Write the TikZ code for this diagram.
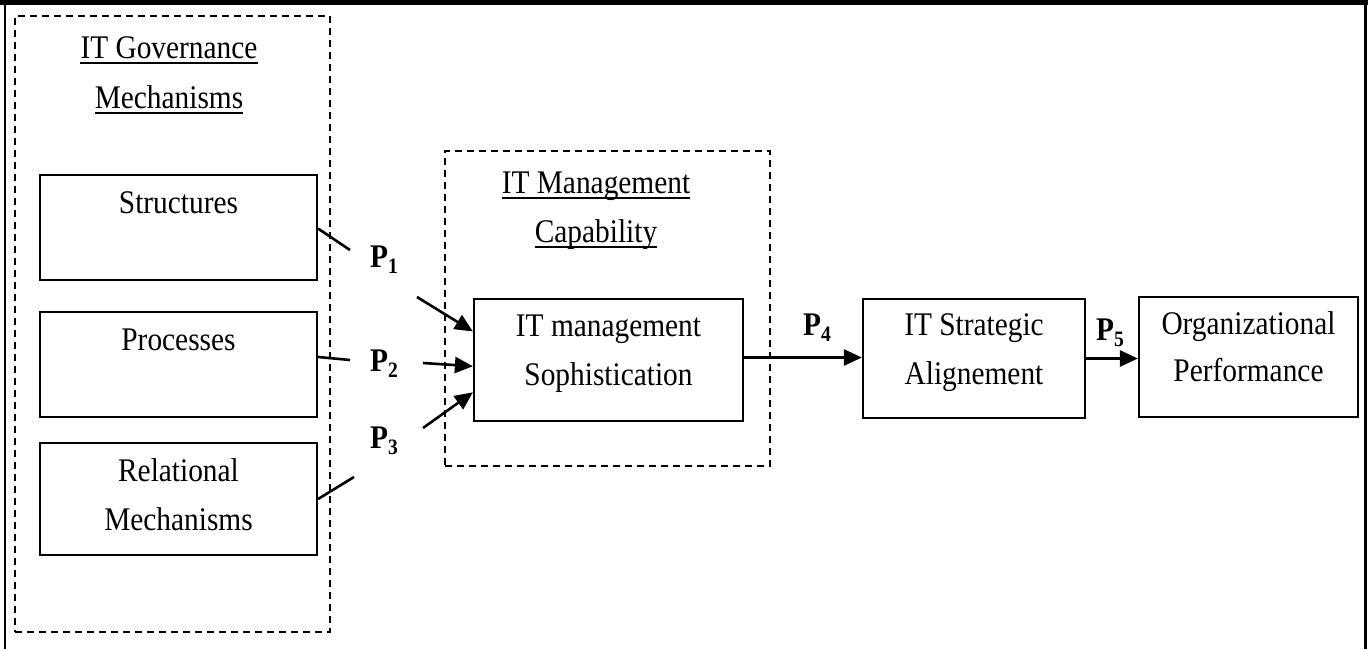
\documentclass[tikz,border=0pt]{standalone}
\usepackage{fontspec}
\setmainfont[FakeStretch=0.89]{Liberation Serif}
\usetikzlibrary{arrows.meta,calc}
\newcommand\bodyfont{\fontsize{33}{49}\selectfont}
\newcommand\plab[1]{\textbf{P\raisebox{-6pt}{\fontsize{22}{22}\selectfont\bfseries #1}}}
\tikzset{
  box/.style={draw, line width=2.2pt, inner sep=0pt},
  grp/.style={draw, line width=2.3pt, dash pattern=on 7pt off 5pt, inner sep=0pt},
  txt/.style={font=\bodyfont, inner sep=0pt, anchor=base},
  plabel/.style={font=\bodyfont, inner sep=0pt},
  uline/.style={line width=1.7pt},
  link/.style={line width=2.6pt},
  arr/.style={line width=2.6pt, -{Triangle[length=18pt,width=16pt]}}
}
\begin{document}
\begin{tikzpicture}[x=1pt,y=-1pt]
\useasboundingbox (0,0) rectangle (1368,649);
% frame
\fill (0,0) rectangle (1368,5);
\draw[line width=2pt] (5,0) -- (5,649);
\draw[line width=3pt] (1365.5,0) -- (1365.5,649);

% groups
\node[grp, minimum width=315pt, minimum height=616pt] (govgrp) at (172.5,324) {};
\node[grp, minimum width=325pt, minimum height=315pt] (capgrp) at (607.5,308.5) {};

% group titles, underlined
\node[txt] (gov1) at (169,58) {IT Governance};
\node[txt] (gov2) at (169,108) {Mechanisms};
\node[txt] (cap1) at (596,193) {IT Management};
\node[txt] (cap2) at (596,242) {Capability};
\foreach \t in {gov1,gov2,cap1,cap2}
  \draw[uline] ([yshift=-5pt]\t.base west) -- ([yshift=-5pt]\t.base east);

% boxes
\node[box, minimum width=277pt, minimum height=105pt] (struct) at (178.5,227.5) {};
\node[box, minimum width=277pt, minimum height=105pt] (proc) at (178.5,364.5) {};
\node[box, minimum width=277pt, minimum height=112pt] (rel) at (178.5,499) {};
\node[box, minimum width=269pt, minimum height=122pt] (soph) at (608.5,360) {};
\node[box, minimum width=222pt, minimum height=119pt] (strat) at (974,358.5) {};
\node[box, minimum width=219pt, minimum height=120pt] (org) at (1248.5,357) {};

% box texts
\node[txt] (structt) at (178.5,213) {Structures};
\node[txt] (proct) at (178.5,350) {Processes};
\node[txt] (relt1) at (178.5,481) {Relational};
\node[txt] (relt2) at (178.5,530) {Mechanisms};
\node[txt] (sopht1) at (608.5,336) {IT management};
\node[txt] (sopht2) at (608.5,385) {Sophistication};
\node[txt] (stratt1) at (974,335) {IT Strategic};
\node[txt] (stratt2) at (974,384) {Alignement};
\node[txt] (orgt1) at (1248.5,334) {Organizational};
\node[txt] (orgt2) at (1248.5,381) {Performance};

% path labels
\node[plabel] (p1) at (384,260) {\plab{1}};
\node[plabel] (p2) at (384,364) {\plab{2}};
\node[plabel] (p3) at (384,441) {\plab{3}};
\node[plabel] (p4) at (817,328) {\plab{4}};
\node[plabel] (p5) at (1110,333) {\plab{5}};

% break points of the links around the labels
\coordinate (a1) at (350,250);
\coordinate (b1) at (417,297);
\coordinate (a2) at (350,360);
\coordinate (b2) at (423,363);
\coordinate (a3) at (354,477);
\coordinate (b3) at (423,428);

% link ends on the box sides
\coordinate (s1) at ($(struct.north east)!0.51!(struct.south east)$);
\coordinate (s2) at ($(proc.north east)!0.43!(proc.south east)$);
\coordinate (e1) at ($(soph.north west)!0.27!(soph.south west)$);
\coordinate (e2) at ($(soph.north west)!0.55!(soph.south west)$);
\coordinate (e3) at ($(soph.north west)!0.76!(soph.south west)$);
\coordinate (o4) at ($(soph.north east)!0.48!(soph.south east)$);

% links into the sophistication box
\draw[link] (s1) -- (a1);
\draw[arr] (b1) -- (e1);
\draw[link] (s2) -- (a2);
\draw[arr] (b2) -- (e2);
\draw[link] (rel.east) -- (a3);
\draw[arr] (b3) -- (e3);

% main chain
\draw[arr] (o4) -- (o4 -| strat.west);
\draw[arr] (strat.east) -- (strat.east -| org.west);
\end{tikzpicture}
\end{document}
